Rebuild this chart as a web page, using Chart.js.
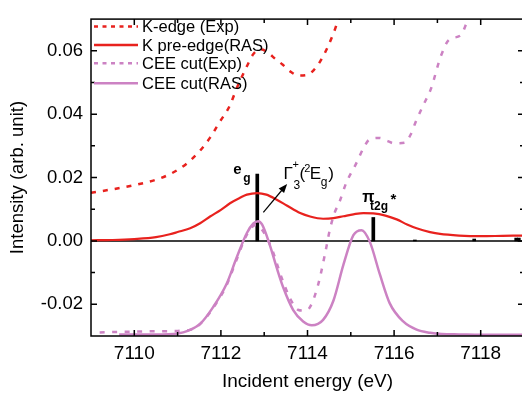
<!DOCTYPE html>
<html><head><meta charset="utf-8">
<script src="https://cdn.jsdelivr.net/npm/chart.js@4"></script>
<style>html,body{margin:0;padding:0;overflow:hidden;background:#fff}#wrap{width:530px;height:393px}</style>
</head><body><div id="wrap"><canvas id="c" width="530" height="393"></canvas></div>
<script>
// ---------- data ----------
const seriesLabels = ['K-edge (Exp)', 'K pre-edge(RAS)', 'CEE cut(Exp)', 'CEE cut(RAS)'];

const kEdgeExpEnergy = [7109.0,7109.5,7110.0,7110.5,7110.75,7111.0,7111.2,7111.52,7111.75,7111.98,7112.21,7112.36,7112.6,7112.75,7112.92,7113.08,7113.25,7113.43,7113.6,7113.8,7114.0,7114.15,7114.3,7114.47,7114.6,7114.72,7114.8];
const kEdgeExpIntensity = [0.0152,0.0163,0.0176,0.0193,0.0206,0.0224,0.0243,0.0285,0.0326,0.0377,0.0428,0.0480,0.0551,0.0590,0.0605,0.0595,0.0575,0.0556,0.0535,0.0522,0.0524,0.0540,0.0568,0.0613,0.0655,0.0700,0.0720];

const kPreEdgeEnergy = [7109.0,7109.5,7110.0,7110.5,7110.82,7111.0,7111.29,7111.52,7111.75,7112.0,7112.21,7112.44,7112.6,7112.84,7113.05,7113.29,7113.52,7113.83,7114.06,7114.36,7114.6,7114.83,7115.06,7115.29,7115.52,7115.8,7116.06,7116.3,7116.52,7116.83,7117.06,7117.5,7118.0,7118.5,7119.0];
const kPreEdgeIntensity = [0.0002,0.0003,0.0006,0.0012,0.0021,0.0028,0.0040,0.0056,0.0077,0.0098,0.0119,0.0136,0.0146,0.0151,0.0146,0.0130,0.0112,0.0088,0.0077,0.0070,0.0072,0.0078,0.0084,0.0088,0.0087,0.0080,0.0068,0.0052,0.0040,0.0028,0.0022,0.0017,0.0015,0.0016,0.0017];

const ceeExpEnergy = [7109.2,7109.6,7110.0,7110.5,7111.0,7111.3,7111.52,7111.82,7112.13,7112.36,7112.6,7112.8,7112.95,7113.17,7113.4,7113.6,7113.79,7113.92,7114.06,7114.25,7114.4,7114.52,7114.63,7114.73,7114.9,7115.12,7115.3,7115.43,7115.66,7115.85,7116.0,7116.24,7116.38,7116.5,7116.68,7116.85,7117.08,7117.27,7117.55,7117.65,7117.72];
const ceeExpIntensity = [-0.0289,-0.0287,-0.0286,-0.0285,-0.0284,-0.0280,-0.0262,-0.0212,-0.0140,-0.0060,0.0020,0.0050,0.0035,-0.0023,-0.0115,-0.0182,-0.0218,-0.0220,-0.0208,-0.0136,-0.0044,0.0038,0.0090,0.0120,0.0185,0.0243,0.0295,0.0320,0.0325,0.0315,0.0308,0.0310,0.0335,0.0376,0.0430,0.0480,0.0583,0.0635,0.0650,0.0680,0.0705];

const ceeRasEnergy = [7109.65,7110.0,7110.5,7111.0,7111.25,7111.52,7111.82,7112.13,7112.36,7112.6,7112.75,7112.86,7112.95,7113.13,7113.29,7113.44,7113.67,7113.9,7114.1,7114.36,7114.6,7114.83,7115.06,7115.25,7115.44,7115.67,7115.9,7116.21,7116.52,7116.83,7117.1,7117.5,7118.0,7118.5,7119.0];
const ceeRasIntensity = [-0.0295,-0.0295,-0.0295,-0.0292,-0.0283,-0.0262,-0.0209,-0.0136,-0.0054,0.0025,0.0055,0.0062,0.0052,-0.0013,-0.0085,-0.0147,-0.0218,-0.0254,-0.0266,-0.0249,-0.0188,-0.0075,0.0018,0.0034,-0.0003,-0.0105,-0.0197,-0.0254,-0.0280,-0.0290,-0.0294,-0.0295,-0.0296,-0.0296,-0.0296];

const stickEnergy = [7112.84, 7115.52, 7116.48, 7117.85, 7118.82, 7118.88];
const stickIntensity = [0.0211, 0.0074, 0.0003, 0.0006, 0.0009, 0.0009];

const xTickValues = [7110, 7112, 7114, 7116, 7118];
const xMinorTickValues = [7111, 7113, 7115, 7117];
const yTickValues = [-0.02, 0.00, 0.02, 0.04, 0.06];
const yMinorTickValues = [-0.01, 0.01, 0.03, 0.05];

// ---------- styles ----------
const RED = '#e8221e';
const PINK = '#cc82c3';
const FONT = '"Liberation Sans", Arial, sans-serif';

const pairs = (xs, ys) => xs.map((v, i) => ({x: v, y: ys[i]}));

const lineDs = (label, xs, ys, color, dash, width) => ({
  type: 'line', label, data: pairs(xs, ys), borderColor: color, backgroundColor: color,
  borderWidth: width, borderDash: dash, pointRadius: 0, fill: false,
  cubicInterpolationMode: 'monotone', clip: 0, order: 1,
  legendDash: dash.length ? [4, 4.5] : []
});

// ---------- plugins ----------
const zeroLine = {
  id: 'zeroLine',
  beforeDatasetsDraw(chart) {
    const {ctx, chartArea: a, scales: {y}} = chart;
    const py = y.getPixelForValue(0);
    ctx.save();
    ctx.strokeStyle = '#000'; ctx.lineWidth = 1.5;
    ctx.beginPath(); ctx.moveTo(a.left, py); ctx.lineTo(a.right, py); ctx.stroke();
    ctx.restore();
  }
};

const frameTicks = {
  id: 'frameTicks',
  afterDraw(chart) {
    const {ctx, chartArea: a, scales: {x, y}} = chart;
    ctx.save();
    ctx.strokeStyle = '#000'; ctx.lineWidth = 1.5;
    ctx.strokeRect(a.left, a.top, a.right - a.left, a.bottom - a.top);
    ctx.beginPath();
    const xt = (vals, len) => vals.forEach(v => {
      const px = x.getPixelForValue(v);
      ctx.moveTo(px, a.bottom); ctx.lineTo(px, a.bottom - len);
      ctx.moveTo(px, a.top); ctx.lineTo(px, a.top + len);
    });
    const yt = (vals, len) => vals.forEach(v => {
      const py = y.getPixelForValue(v);
      ctx.moveTo(a.left, py); ctx.lineTo(a.left + len, py);
      ctx.moveTo(a.right, py); ctx.lineTo(a.right - len, py);
    });
    xt(xTickValues, 6); xt(xMinorTickValues, 4);
    yt(yTickValues, 6); yt(yMinorTickValues, 4);
    ctx.stroke();
    ctx.restore();
  }
};

const legendRows = [26.5, 45, 63.3, 83.3];
const customLegend = {
  id: 'customLegend',
  afterDraw(chart) {
    const {ctx} = chart;
    ctx.save();
    ctx.font = '16.5px ' + FONT;
    ctx.textAlign = 'left'; ctx.textBaseline = 'alphabetic';
    chart.data.datasets.slice(0, 4).forEach((ds, i) => {
      const ry = legendRows[i];
      ctx.strokeStyle = ds.borderColor; ctx.lineWidth = 2.5;
      ctx.setLineDash(ds.legendDash);
      ctx.beginPath(); ctx.moveTo(94, ry); ctx.lineTo(138, ry); ctx.stroke();
      ctx.setLineDash([]);
      ctx.fillStyle = '#000';
      ctx.fillText(ds.label, 142, ry + 5.9);
    });
    ctx.restore();
  }
};

const labelAnchors = {
  eg: [7112.84, 0.0211],
  pi: [7115.52, 0.0074],
  arrowTail: [7112.98, 0.0090],
  arrowTip: [7113.53, 0.0180]
};

const annotations = {
  id: 'annotations',
  afterDatasetsDraw(chart) {
    const {ctx, scales: {x, y}} = chart;
    const P = a => [x.getPixelForValue(a[0]), y.getPixelForValue(a[1])];
    const T = (s, px, py, font) => { ctx.font = font; ctx.fillText(s, px, py); };
    ctx.save();
    ctx.fillStyle = '#000'; ctx.strokeStyle = '#000';
    ctx.textAlign = 'left'; ctx.textBaseline = 'alphabetic';
    // e_g
    let [ex, ey] = P(labelAnchors.eg);
    T('e', ex - 24, ey, 'bold 15px ' + FONT);
    T('g', ex - 14, ey + 7.5, 'bold 12px ' + FONT);
    // pi_t2g *
    let [qx, qy] = P(labelAnchors.pi);
    T('\u03C0', qx - 11, qy - 15.6, 'bold 16px ' + FONT);
    T('t2g', qx - 3.3, qy - 7.6, 'bold 12px ' + FONT);
    T('*', qx + 17.2, qy - 13.6, 'bold 15px ' + FONT);
    // arrow
    const [tx, ty] = P(labelAnchors.arrowTail);
    const [hx, hy] = P(labelAnchors.arrowTip);
    const ang = Math.atan2(hy - ty, hx - tx);
    ctx.lineWidth = 1.2;
    ctx.beginPath(); ctx.moveTo(tx, ty);
    ctx.lineTo(hx - 6 * Math.cos(ang), hy - 6 * Math.sin(ang)); ctx.stroke();
    ctx.beginPath();
    ctx.moveTo(hx, hy);
    ctx.lineTo(hx - 9 * Math.cos(ang) + 3.5 * Math.sin(ang), hy - 9 * Math.sin(ang) - 3.5 * Math.cos(ang));
    ctx.lineTo(hx - 9 * Math.cos(ang) - 3.5 * Math.sin(ang), hy - 9 * Math.sin(ang) + 3.5 * Math.cos(ang));
    ctx.closePath(); ctx.fill();
    // Gamma_3^+ (^2E_g)
    T('\u0393', hx - 3.7, hy - 4.7, '17px ' + FONT);
    T('+', hx + 5.3, hy - 16, '11px ' + FONT);
    T('3', hx + 6.3, hy + 5.3, '12px ' + FONT);
    T('(', hx + 12.3, hy - 4.7, '17px ' + FONT);
    T('2', hx + 17, hy - 12.3, '11px ' + FONT);
    T('E', hx + 22.5, hy - 4.7, '17px ' + FONT);
    T('g', hx + 33.5, hy + 2.5, '12px ' + FONT);
    T(')', hx + 41, hy - 4.7, '17px ' + FONT);
    ctx.restore();
  }
};

// ---------- chart ----------
new Chart(document.getElementById('c'), {
  type: 'line',
  data: {
    datasets: [
      lineDs(seriesLabels[0], kEdgeExpEnergy, kEdgeExpIntensity, RED, [5, 7], 2.5),
      lineDs(seriesLabels[1], kPreEdgeEnergy, kPreEdgeIntensity, RED, [], 2.2),
      lineDs(seriesLabels[2], ceeExpEnergy, ceeExpIntensity, PINK, [5, 7.5], 2.5),
      lineDs(seriesLabels[3], ceeRasEnergy, ceeRasIntensity, PINK, [], 2.5),
      {
        type: 'bar', label: 'sticks', data: pairs(stickEnergy, stickIntensity),
        backgroundColor: '#000', borderWidth: 0, barThickness: 3, grouped: false,
        order: 5, clip: 0
      }
    ]
  },
  options: {
    responsive: false, animation: false,
    layout: {padding: {top: 14, right: 6, left: 0, bottom: 0}},
    plugins: {legend: {display: false}, tooltip: {enabled: false}},
    scales: {
      x: {
        type: 'linear', position: 'bottom', min: 7109, max: 7119, offset: false,
        grid: {display: false, drawTicks: false}, border: {display: false},
        afterBuildTicks: s => { s.ticks = xTickValues.map(v => ({value: v})); },
        afterFit: s => { s.height = 57; },
        ticks: {font: {family: FONT, size: 19}, color: '#000', padding: 6, maxRotation: 0,
                callback: v => String(v)},
        title: {display: true, text: 'Incident energy (eV)', color: '#000',
                font: {family: FONT, size: 19}, padding: {top: 0, bottom: 0}}
      },
      y: {
        type: 'linear', position: 'left', min: -0.03, max: 0.07,
        grid: {display: false, drawTicks: false}, border: {display: false},
        afterBuildTicks: s => { s.ticks = yTickValues.map(v => ({value: v})); },
        afterFit: s => { s.width = 91; },
        ticks: {font: {family: FONT, size: 18.5}, color: '#000', padding: 8,
                callback: v => Number(v).toFixed(2)},
        title: {display: true, text: 'Intensity (arb. unit)', color: '#000',
                font: {family: FONT, size: 18.5}, padding: {top: 7, bottom: 0}}
      }
    }
  },
  plugins: [zeroLine, annotations, frameTicks, customLegend]
});
</script>
</body></html>
